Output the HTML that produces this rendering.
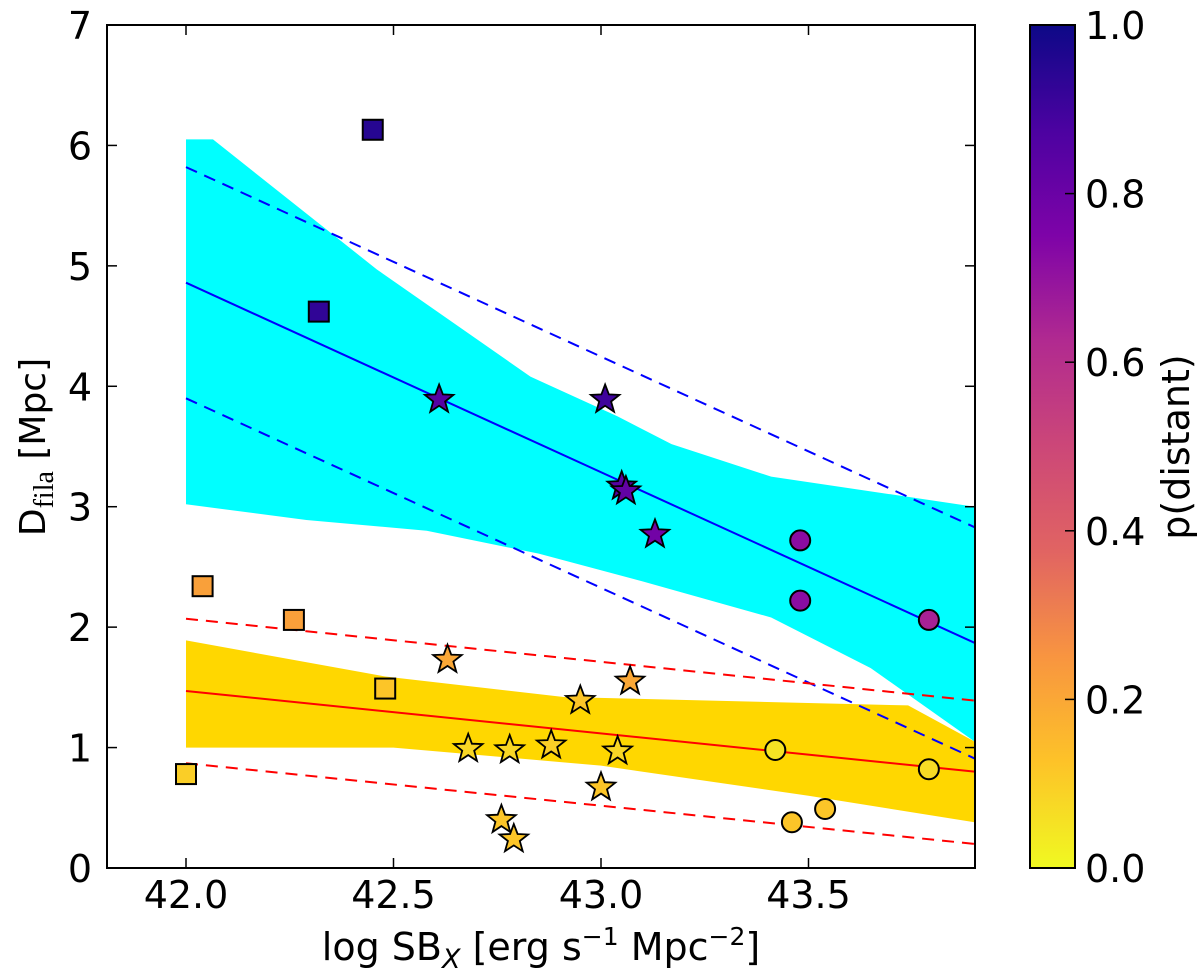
<!DOCTYPE html>
<html><head><meta charset="utf-8"><style>
body{margin:0;background:#fff;}
svg text{font-family:"DejaVu Sans","Liberation Sans",sans-serif;fill:#000;}
</style></head><body>
<svg id="chart" width="1200" height="974" viewBox="0 0 1200 974" xmlns="http://www.w3.org/2000/svg">
<defs>
<linearGradient id="cbgrad" x1="0" y1="1" x2="0" y2="0">
<stop offset="0" stop-color="#f0f921"/><stop offset="0.125" stop-color="#fdc328"/><stop offset="0.25" stop-color="#f89540"/><stop offset="0.375" stop-color="#e16462"/><stop offset="0.5" stop-color="#cc4778"/><stop offset="0.625" stop-color="#b12a90"/><stop offset="0.75" stop-color="#7e03a8"/><stop offset="0.875" stop-color="#4c02a1"/><stop offset="1" stop-color="#0d0887"/>
</linearGradient>
<clipPath id="plotclip"><rect x="107" y="25" width="868" height="843"/></clipPath>
</defs>
<g id="plot" clip-path="url(#plotclip)"></g>
<rect x="107" y="25" width="868" height="843" fill="none" stroke="#000" stroke-width="2"/>
<g id="axes"></g>
<rect x="1030" y="25" width="45" height="843" fill="url(#cbgrad)" stroke="#000" stroke-width="2"/>
<g id="cbaxis"></g>
<text x="541" y="960" font-size="38" text-anchor="middle">log SB<tspan font-style="italic" font-size="27" dy="8">X</tspan><tspan dy="-8"> [erg s</tspan><tspan font-size="25" dy="-15">−1</tspan><tspan dy="15"> Mpc</tspan><tspan font-size="25" dy="-15">−2</tspan><tspan dy="15">]</tspan></text>
<text transform="translate(45,447) rotate(-90)" font-size="36" text-anchor="middle">D<tspan font-family="Liberation Serif" font-size="28" dy="8">fila</tspan><tspan dy="-8"> [Mpc]</tspan></text>
<text transform="translate(1189,447) rotate(-90)" font-size="38" text-anchor="middle">p(distant)</text>
</svg>
<script>
const xTicks=[42.0,42.5,43.0,43.5];
const yTicks=[0,1,2,3,4,5,6,7];
const cbTicks=[0.0,0.2,0.4,0.6,0.8,1.0];
const cyanUX=[42.0,42.065,42.46,42.83,43.04,43.17,43.41,43.9];
const cyanUpper=[6.05,6.05,4.97,4.08,3.75,3.52,3.25,3.0];
const cyanLX=[42.0,42.29,42.58,42.85,43.10,43.41,43.65,43.9];
const cyanLower=[3.02,2.89,2.80,2.61,2.38,2.08,1.66,1.05];
const goldUX=[42.0,42.48,42.91,43.74,43.9];
const goldUpper=[1.89,1.59,1.42,1.35,1.05];
const goldLX=[42.0,42.5,43.0,43.5,43.9];
const goldLower=[1.0,1.0,0.85,0.6,0.38];
const lineX=[42.0,43.9];
const blueFit=[4.86,1.87],blueUp=[5.82,2.83],blueLo=[3.9,0.91];
const redFit=[1.47,0.80],redUp=[2.07,1.39],redLo=[0.87,0.20];
const ptX=[42.45,42.32,42.04,42.26,42.48,42.0, 42.61,43.01,43.05,43.06,43.13,42.63,43.07,42.95,42.68,42.78,42.88,43.04,43.0,42.76,42.79, 43.48,43.48,43.79,43.42,43.79,43.46,43.54];
const ptY=[6.13,4.62,2.34,2.06,1.49,0.78, 3.89,3.89,3.17,3.13,2.77,1.73,1.55,1.39,0.99,0.98,1.02,0.97,0.67,0.40,0.24, 2.72,2.22,2.06,0.98,0.82,0.38,0.49];
const ptP=[0.95,0.93,0.22,0.22,0.12,0.1, 0.85,0.9,0.85,0.82,0.78,0.2,0.2,0.12,0.08,0.08,0.1,0.08,0.12,0.12,0.12, 0.72,0.72,0.65,0.05,0.07,0.12,0.12];
const ptM=['s','s','s','s','s','s','*','*','*','*','*','*','*','*','*','*','*','*','*','*','*','o','o','o','o','o','o','o'];

const NS='http://www.w3.org/2000/svg';
const X=v=>186+(v-42.0)*415;
const Y=v=>868-v*120.43;
const CY=v=>868-v*843;
const plasma=[[13,8,135],[76,2,161],[126,3,168],[177,42,144],[204,71,120],[225,100,98],[248,149,64],[253,195,40],[240,249,33]];
function col(p){const t=(1-p)*8;const i=Math.min(7,Math.floor(t)),f=t-i;const a=plasma[i],b=plasma[i+1];return 'rgb('+a.map((c,k)=>Math.round(c+(b[k]-c)*f)).join(',')+')';}
function mk(tag,attrs,parent){const e=document.createElementNS(NS,tag);for(const k in attrs)e.setAttribute(k,attrs[k]);parent.appendChild(e);return e;}
const plot=document.getElementById('plot'),axes=document.getElementById('axes'),cb=document.getElementById('cbaxis');
function band(ux,up,lx,lo,fill,name){let d='M'+ux.map((x,i)=>X(x)+','+Y(up[i])).join('L');for(let i=lx.length-1;i>=0;i--)d+='L'+X(lx[i])+','+Y(lo[i]);d+='Z';const e=mk('path',{d:d,fill:fill},plot);

}
band(goldUX,goldUpper,goldLX,goldLower,'#ffd700','gold-confidence-band');
band(cyanUX,cyanUpper,cyanLX,cyanLower,'#00ffff','cyan-confidence-band');
function line(ys,color,dash,name){const e=mk('line',{x1:X(lineX[0]),y1:Y(ys[0]),x2:X(lineX[1]),y2:Y(ys[1]),stroke:color,'stroke-width':2,'stroke-dasharray':dash},plot);

}
line(blueFit,'#0000ff','none','blue-fit-line');line(blueUp,'#0000ff','12,8','blue-upper-dashed');line(blueLo,'#0000ff','12,8','blue-lower-dashed');
line(redFit,'#ff0000','none','red-fit-line');line(redUp,'#ff0000','12,8','red-upper-dashed');line(redLo,'#ff0000','12,8','red-lower-dashed');
function star(cx,cy,R){let p=[];for(let i=0;i<10;i++){const r=i%2?R*0.42:R;const a=-Math.PI/2+i*Math.PI/5;p.push((cx+r*Math.cos(a)).toFixed(1)+','+(cy+r*Math.sin(a)).toFixed(1));}return p.join(' ');}
for(let i=0;i<ptX.length;i++){const cx=X(ptX[i]),cy=Y(ptY[i]),c=col(ptP[i]);let e;
if(ptM[i]==='s')e=mk('rect',{x:cx-10,y:cy-10,width:20,height:20,fill:c,stroke:'#000','stroke-width':2},plot);
else if(ptM[i]==='o')e=mk('circle',{cx:cx,cy:cy,r:10,fill:c,stroke:'#000','stroke-width':2},plot);
else e=mk('polygon',{points:star(cx,cy,15),fill:c,stroke:'#000','stroke-width':1.8},plot);

}
xTicks.forEach(v=>{mk('line',{x1:X(v),y1:868,x2:X(v),y2:858,stroke:'#000','stroke-width':1.5},axes);mk('line',{x1:X(v),y1:25,x2:X(v),y2:35,stroke:'#000','stroke-width':1.5},axes);
const t=mk('text',{x:X(v),y:908,'font-size':38,'text-anchor':'middle'},axes);t.textContent=v.toFixed(1);

});
yTicks.forEach(v=>{mk('line',{x1:107,y1:Y(v),x2:117,y2:Y(v),stroke:'#000','stroke-width':1.5},axes);mk('line',{x1:975,y1:Y(v),x2:965,y2:Y(v),stroke:'#000','stroke-width':1.5},axes);
const t=mk('text',{x:92,y:Y(v)+14,'font-size':38,'text-anchor':'end'},axes);t.textContent=v;

});
cbTicks.forEach(v=>{mk('line',{x1:1065,y1:CY(v),x2:1075,y2:CY(v),stroke:'#000','stroke-width':1.5},cb);
const t=mk('text',{x:1085,y:CY(v)+14,'font-size':38},cb);t.textContent=v.toFixed(1);

});
</script>
</body></html>
